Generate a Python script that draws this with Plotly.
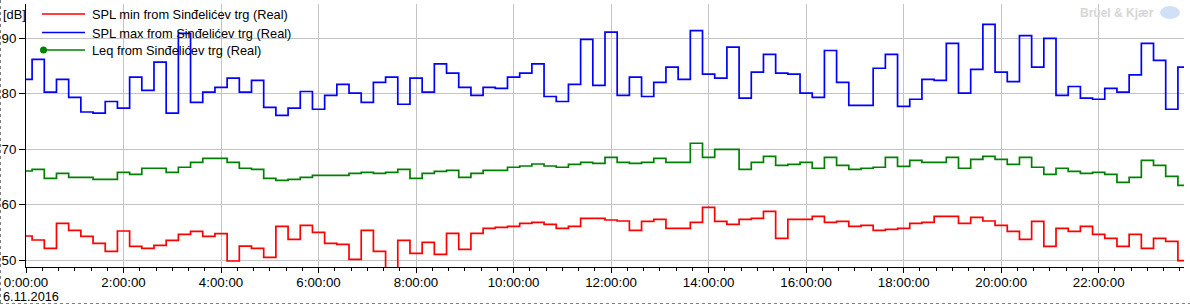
import plotly.graph_objects as go
import pandas as pd

# ---- data (15-minute intervals, 6.11.2016) ----
start_time = "2016-11-06 00:00:00"
n_points = 96
times = pd.date_range(start_time, periods=n_points, freq="15min")

spl_max = [82.6, 86.2, 80.3, 82.6, 79.35, 76.7, 76.5, 78.6, 77.4, 83.0,
           80.6, 85.7, 76.5, 90.9, 78.45, 80.3, 81.15, 82.8, 80.3, 82.4,
           77.55, 76.1, 77.4, 80.4, 77.2, 79.7, 81.7, 80.1, 78.45, 82.05,
           83.0, 78.1, 82.8, 80.3, 85.4, 83.7, 81.15, 79.7, 81.15, 80.98,
           83.0, 83.7, 85.4, 79.5, 78.6, 81.7, 89.8, 81.5, 91.1, 79.7,
           83.0, 79.5, 82.05, 84.8, 82.6, 91.4, 83.55, 82.8, 88.4, 79.2,
           83.9, 87.1, 83.7, 83.55, 80.1, 79.35, 87.8, 82.05, 77.9, 77.9,
           84.6, 87.1, 77.7, 79.0, 82.6, 82.4, 89.1, 80.1, 84.4, 92.5,
           83.9, 82.2, 90.5, 84.8, 90.0, 79.7, 81.3, 79.2, 79.0, 80.98,
           80.3, 83.4, 89.1, 86.0, 77.2, 84.8]

leq = [66.06, 66.36, 64.74, 65.64, 64.92, 64.92, 64.56, 64.56, 65.82, 65.46,
       66.55, 66.55, 65.82, 66.73, 67.63, 68.35, 68.35, 67.63, 66.55, 66.36,
       64.74, 64.38, 64.56, 64.92, 65.28, 65.28, 65.28, 65.64, 65.82, 65.64,
       65.82, 66.36, 64.74, 65.64, 66.0, 66.18, 64.92, 65.64, 66.18, 66.18,
       66.73, 66.96, 67.32, 66.96, 66.73, 67.27, 67.63, 67.45, 68.53, 67.63,
       67.45, 67.63, 68.35, 67.63, 67.63, 71.06, 68.53, 69.97, 69.97, 66.36,
       67.63, 68.71, 67.09, 67.27, 67.63, 66.55, 68.53, 67.09, 66.36, 66.55,
       66.73, 68.53, 66.91, 67.99, 67.63, 67.63, 68.53, 66.55, 68.17, 68.71,
       68.17, 67.27, 68.53, 66.73, 65.46, 66.55, 66.0, 65.64, 65.82, 65.46,
       64.02, 64.92, 67.99, 67.09, 65.1, 63.48]

spl_min = [54.33, 53.61, 52.11, 56.62, 55.36, 54.28, 53.01, 51.57, 55.23, 52.47,
           52.11, 52.65, 53.55, 54.64, 55.18, 54.28, 54.75, 49.82, 52.5, 52.11,
           50.49, 56.08, 53.73, 56.26, 55.0, 53.0, 52.83, 50.13, 55.36, 51.57,
           47.5, 53.55, 51.21, 53.19, 51.03, 54.82, 51.93, 54.82, 55.72, 55.9,
           56.08, 56.62, 56.8, 56.44, 55.72, 56.08, 57.52, 57.52, 57.22, 57.04,
           55.36, 56.98, 57.34, 55.72, 55.72, 56.8, 59.5, 56.98, 56.44, 57.34,
           57.52, 58.79, 53.91, 57.34, 57.34, 57.88, 56.8, 56.98, 56.08, 56.26,
           55.36, 55.54, 55.72, 56.62, 56.8, 57.88, 57.88, 56.62, 57.7, 57.04,
           56.26, 55.18, 53.73, 56.98, 52.47, 55.72, 55.18, 56.08, 54.64, 53.91,
           52.47, 54.64, 52.11, 53.91, 53.37, 49.87]

series_names = ["SPL min from Sinđelićev trg (Real)",
                "SPL max from Sinđelićev trg (Real)",
                "Leq from Sinđelićev trg (Real)"]
series_colors = ["#ff0000", "#0000ff", "#008000"]
y_ticks = [50, 60, 70, 80, 90]
date_label = "6.11.2016"
unit_label = "[dB]"
brand = "Brüel & Kjær"

# ---- geometry (pixels) ----
W_PX, H_PX = 1190, 306
L, R, T, B = 26, 1184, 4, 267
PW, PH = R - L, B - T


def px2x(px):
    return (px - L) / PW


def py2y(py):
    return (B - py) / PH


FONT = "Liberation Sans"

fig = go.Figure()
for vals, name, col in zip([spl_min, spl_max, leq], series_names, series_colors):
    fig.add_trace(go.Scatter(x=times, y=vals, mode="lines", name=name,
                             line=dict(color=col, width=1.7, shape="hvh"),
                             showlegend=False, hoverinfo="skip"))

shapes = []
annotations = []
rows_y = [14, 32.5, 50]
for name, col, ry in zip(series_names, series_colors, rows_y):
    shapes.append(dict(type="line", xref="paper", yref="paper",
                       x0=px2x(42), x1=px2x(85), y0=py2y(ry), y1=py2y(ry),
                       line=dict(color=col, width=1.3)))
    annotations.append(dict(xref="paper", yref="paper", x=px2x(90), y=py2y(ry + 0.5),
                            xanchor="left", yanchor="middle", showarrow=False,
                            text=name, font=dict(family=FONT, size=12.8, color="#000000")))
# green marker in legend
shapes.append(dict(type="circle", xref="paper", yref="paper",
                   x0=px2x(40), x1=px2x(47), y0=py2y(46.5), y1=py2y(53.5),
                   fillcolor="#008000", line=dict(color="#008000", width=0)))

annotations.append(dict(xref="paper", yref="paper", x=px2x(1), y=py2y(14.5),
                        xanchor="left", yanchor="middle", showarrow=False,
                        text=unit_label, font=dict(family=FONT, size=12.8, color="#000000")))
annotations.append(dict(xref="paper", yref="paper", x=px2x(1), y=py2y(296.5),
                        xanchor="left", yanchor="middle", showarrow=False,
                        text=date_label, font=dict(family=FONT, size=12.8, color="#000000")))
annotations.append(dict(xref="paper", yref="paper", x=px2x(1117), y=py2y(13),
                        xanchor="center", yanchor="middle", showarrow=False,
                        text="<b>" + brand + "</b>",
                        font=dict(family=FONT, size=12, color="#d6d6d6")))
# brand logo (light blue globe)
shapes.append(dict(type="circle", xref="paper", yref="paper",
                   x0=px2x(1160), x1=px2x(1180), y0=py2y(6), y1=py2y(19),
                   fillcolor="rgba(170,200,240,0.55)", line=dict(width=0)))

# page border (dotted)
shapes.append(dict(type="line", xref="paper", yref="paper",
                   x0=px2x(0.5), x1=px2x(0.5), y0=py2y(0), y1=py2y(303.5),
                   line=dict(color="#808080", width=1, dash="dot")))
shapes.append(dict(type="line", xref="paper", yref="paper",
                   x0=px2x(0), x1=px2x(1190), y0=py2y(303.5), y1=py2y(303.5),
                   line=dict(color="#808080", width=1, dash="dot")))

y_bottom = 50 - (B - 260) / 5.5425
y_top = y_bottom + PH / 5.5425

fig.update_layout(
    width=W_PX, height=H_PX,
    margin=dict(l=L, r=W_PX - R, t=T, b=H_PX - B, pad=0),
    paper_bgcolor="white", plot_bgcolor="white",
    showlegend=False,
    shapes=shapes, annotations=annotations,
    xaxis=dict(
        type="date",
        range=[times[0], times[-1]],
        tickformat="%-H:%M:%S",
        dtick=7200000, tick0=start_time,
        ticks="outside", ticklen=5, tickcolor="#000000",
        ticklabelstandoff=-2,
        showline=True, linecolor="#000000", linewidth=1,
        showgrid=True, gridcolor="#c4c4c4", gridwidth=1,
        zeroline=False, automargin=False,
        tickfont=dict(family=FONT, size=13.3, color="#000000"),
        minor=dict(dtick=1200000, tick0=start_time, ticks="outside", ticklen=3,
                   tickcolor="#000000", showgrid=False),
    ),
    yaxis=dict(
        range=[y_bottom, y_top],
        tickvals=y_ticks,
        ticks="outside", ticklen=6, tickcolor="#000000",
        showline=True, linecolor="#000000", linewidth=1,
        showgrid=True, gridcolor="#c4c4c4", gridwidth=1,
        zeroline=False, automargin=False,
        tickfont=dict(family=FONT, size=13.3, color="#000000"),
    ),
)

fig.write_html("out.html")
